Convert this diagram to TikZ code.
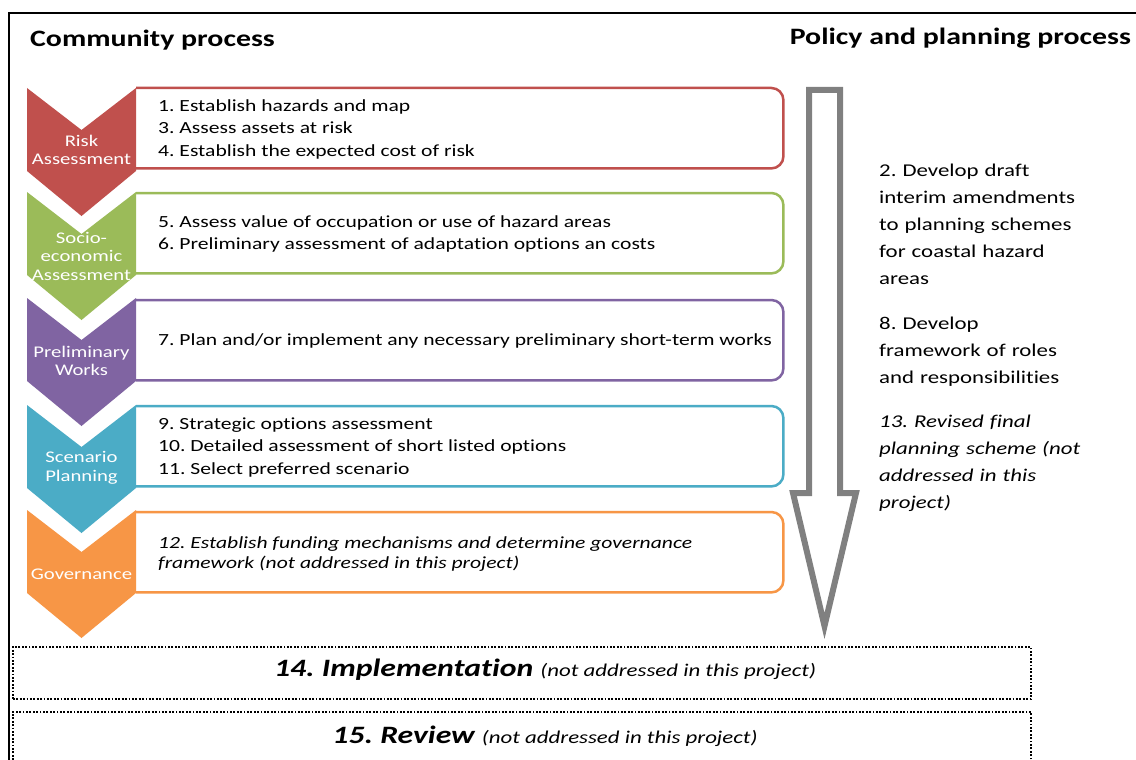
\documentclass[tikz,border=0pt]{standalone}
\usepackage{fontspec}
\setmainfont[FakeStretch=1.27,Ligatures=NoCommon]{Carlito}
\usepackage{xcolor}
\usepackage{tikz}
\usetikzlibrary{positioning,calc}
\definecolor{riskred}{HTML}{C0504D}
\definecolor{socgreen}{HTML}{9BBB59}
\definecolor{prelpurple}{HTML}{8064A2}
\definecolor{scenblue}{HTML}{4BACC6}
\definecolor{govorange}{HTML}{F79646}
\definecolor{policygray}{HTML}{808080}
\newcommand{\cpchevron}[2]{%
  \path[fill=#1] (27,#2) -- ++(54.5,42) -- ++(54.5,-42) -- ++(0,83) -- ++(-54.5,45) -- ++(-54.5,-45) -- cycle;}
\newcommand{\cpframe}[2]{%
  \path[draw=#2, line width=2.5pt, rounded corners=12pt] ([xshift=18pt]#1.north west) -- (#1.north east) -- (#1.south east) -- ([xshift=18pt]#1.south west);}

\begin{document}
\frenchspacing
\begin{tikzpicture}[
    x=1pt, y=-1pt,
    nosep/.style={inner sep=0},
    title/.style={nosep, font=\fontsize{23.5}{27}\selectfont\bfseries},
    stagebox/.style={minimum width=665pt, minimum height=80pt, anchor=north west, nosep},
    stagetext/.style={nosep, anchor=west, align=left, font=\fontsize{17}{22.5}\selectfont},
    stagelabel/.style={nosep, align=center, text=white, font=\fontsize{16.3}{18.5}\selectfont},
    policytext/.style={nosep, anchor=north west, align=left, text width=250pt, font=\fontsize{18}{27}\selectfont},
    laterbox/.style={draw, line width=1.8pt, dash pattern=on 1.8pt off 1.6pt, minimum width=1018pt, anchor=north west, nosep}]
\clip (0,0) rectangle (1136,760);
\path[fill=white] (0,0) rectangle (1136,760);

% frame
\path[draw, line width=2pt] (9,800) -- (9,13) -- (1160,13);

% titles
\node[title, anchor=west] (COMMTITLE) at (30,40) {Community process};
\node[title, anchor=east] (POLTITLE) at (1131,38) {Policy and planning process};

% stage boxes
\node[stagebox] (RISKBOX) at (118,88)  {};
\node[stagebox] (SOCBOX)  at (118,193) {};
\node[stagebox] (PRELBOX) at (118,300) {};
\node[stagebox] (SCENBOX) at (118,406) {};
\node[stagebox] (GOVBOX)  at (118,512) {};
\cpframe{RISKBOX}{riskred}
\cpframe{SOCBOX}{socgreen}
\cpframe{PRELBOX}{prelpurple}
\cpframe{SCENBOX}{scenblue}
\cpframe{GOVBOX}{govorange}

\node[stagetext] (RISKTXT) at ([xshift=40pt,yshift=-1pt]RISKBOX.west) {1. Establish hazards and map\\3. Assess assets at risk\\4. Establish the expected cost of risk};
\node[stagetext] (SOCTXT) at ([xshift=40pt,yshift=-1pt]SOCBOX.west) {5. Assess value of occupation or use of hazard areas\\6. Preliminary assessment of adaptation options an costs};
\node[stagetext] (PRELTXT) at ([xshift=40pt,yshift=-1pt]PRELBOX.west) {7. Plan and/or implement any necessary preliminary short-term works};
\node[stagetext] (SCENTXT) at ([xshift=40pt,yshift=-1pt]SCENBOX.west) {9. Strategic options assessment\\10. Detailed assessment of short listed options\\11. Select preferred scenario};
\node[stagetext, font=\fontsize{17}{20}\selectfont\itshape] (GOVTXT) at ([xshift=40pt,yshift=-2pt]GOVBOX.west) {12. Establish funding mechanisms and determine governance\\framework (not addressed in this project)};

% chevrons
\cpchevron{riskred}{88}
\cpchevron{socgreen}{192}
\cpchevron{prelpurple}{298}
\cpchevron{scenblue}{405}
\cpchevron{govorange}{510}

\node[stagelabel] (RISKLBL) at (81.5,150) {Risk\\Assessment};
\node[stagelabel] (SOCLBL)  at (81.5,256) {Socio-\\economic\\Assessment};
\node[stagelabel] (PRELLBL) at (81.5,361) {Preliminary\\Works};
\node[stagelabel] (SCENLBL) at (81.5,468) {Scenario\\Planning};
\node[stagelabel] (GOVLBL)  at (81.5,574) {Governance};

% policy arrow
\path[draw=policygray, line width=6pt, miter limit=20] (809,90) -- (840,90) -- (840,493) -- (856,493) -- (824.5,626) -- (793,493) -- (809,493) -- cycle;

\node[policytext] (POLDRAFT) at (879,164) {2. Develop draft\\interim amendments\\to planning schemes\\for coastal hazard\\areas};
\node[policytext] (POLROLES) at (879,317) {8. Develop\\framework of roles\\and responsibilities};
\node[policytext, font=\fontsize{18}{27}\selectfont\itshape] (POLFINAL) at (879,415) {13. Revised final\\planning scheme (not\\addressed in this\\project)};

% later stages
\node[laterbox, minimum height=52pt] (IMPLBOX) at (12,646) {};
\node[laterbox, minimum height=80pt] (REVBOX) at (12,711) {};
\node[nosep] (IMPLTXT) at (545,670) {\fontsize{25}{28}\selectfont\bfseries\itshape 14. Implementation \fontsize{18}{20}\selectfont\mdseries(not addressed in this project)};
\node[nosep] (REVTXT) at (545,736) {\fontsize{25}{28}\selectfont\bfseries\itshape 15. Review \fontsize{18}{20}\selectfont\mdseries(not addressed in this project)};

\end{tikzpicture}
\end{document}
